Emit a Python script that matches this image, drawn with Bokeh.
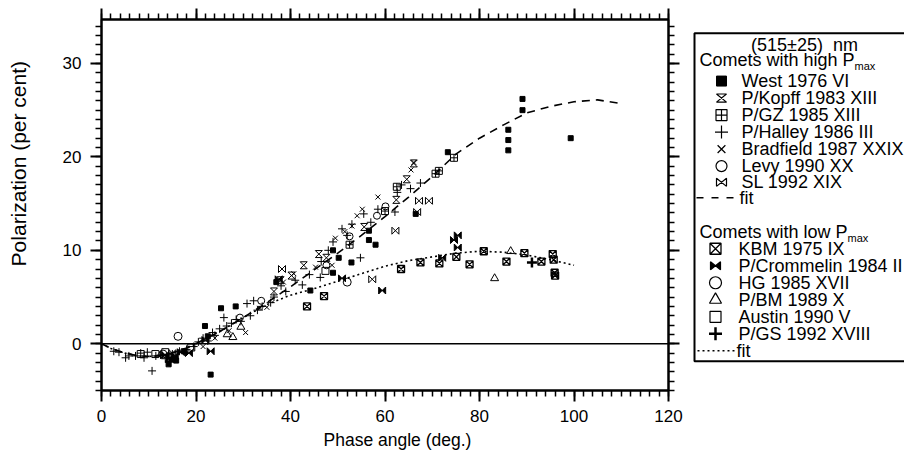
import numpy as np
from bokeh.plotting import figure
from bokeh.models import Range1d, LinearAxis, Span, FixedTicker, CustomJSTickFormatter, Title
from bokeh.layouts import row
from bokeh.embed import file_html
from bokeh.resources import INLINE
from bokeh.core.properties import value

# ---------------- data ----------------
west_x = [14.2, 15.3, 15.8, 17.4, 21.9, 22.5, 23.1, 25.3, 28.4, 37.0, 44.2, 49.0, 49.0, 50.2, 52.9, 56.6, 56.6, 58.0, 66.5, 73.3, 86.1, 86.1, 86.1, 89.1, 89.1, 99.3]
west_y = [-2.2, -1.6, -1.8, -0.8, 1.9, 0.8, -3.3, 3.8, 4.0, 6.6, 5.7, 10.0, 7.6, 9.2, 8.7, 11.1, 12.1, 10.6, 13.9, 20.5, 20.7, 21.8, 22.9, 25.0, 26.2, 22.0]

kopff_x = [36.5, 37.9, 40.2, 42.8, 46.0, 47.6, 55.6, 62.4, 64.6, 66.1]
kopff_y = [5.6, 6.8, 7.3, 8.4, 9.6, 9.2, 12.5, 15.4, 17.6, 19.3]

gz_x = [52.5, 60.0, 62.5, 70.7, 71.4, 74.6]
gz_y = [10.6, 14.2, 16.8, 18.2, 18.5, 19.9]

halley_x = [2.6, 3.7, 5.1, 5.8, 7.2, 8.3, 9.0, 9.7, 10.7, 11.5, 12.5, 13.5, 15.0, 16.5, 18.0,
            19.5, 20.5, 21.5, 22.5, 23.5, 24.0, 25.0, 25.9, 26.5, 27.5, 28.5, 29.5, 30.8, 31.5, 32.2,
            33.0, 34.0, 35.8, 36.5, 38.0, 39.0, 41.0, 42.5, 44.0, 46.3, 46.5, 48.0, 49.0, 50.9, 52.0,
            53.0, 54.8, 55.5, 57.0, 58.5, 62.1, 62.6, 63.5, 65.4, 67.5]
halley_y = [-0.8, -0.9, -1.5, -1.3, -1.3, -1.0, -1.5, -0.9, -2.9, -1.3, -1.2, -1.6, -1.1, -0.8, -0.6,
            -0.3, 0.2, 0.6, 0.3, 1.2, 0.9, 1.6, 2.8, 1.9, 2.2, 2.6, 2.4, 4.3, 3.0, 4.6,
            3.6, 4.0, 4.4, 5.0, 6.2, 5.6, 6.8, 6.3, 7.4, 7.1, 8.8, 10.0, 10.9, 12.3, 11.6,
            12.8, 9.2, 13.9, 13.0, 14.4, 14.1, 16.2, 17.0, 16.6, 17.2]

bradfield_x = [21.5, 24.0, 27.0, 30.5, 33.5, 35.0, 38.5, 40.7, 45.3, 48.8, 49.5, 51.5, 53.0, 54.1, 55.2, 58.5, 65.5, 66.1]
bradfield_y = [-0.3, 0.6, 1.4, 1.2, 3.8, 3.9, 6.6, 7.5, 8.2, 8.4, 11.3, 12.0, 12.6, 13.7, 14.4, 15.7, 18.6, 19.4]

levy_x = [29.3, 33.8, 47.6, 52.5, 58.3, 60.1]
levy_y = [2.8, 4.6, 8.4, 11.5, 13.7, 14.7]

sl_x = [15.0, 38.2, 57.3, 62.2, 66.8, 67.2, 69.3]
sl_y = [-1.0, 8.0, 6.9, 12.1, 14.1, 15.3, 15.3]

kbm_x = [43.5, 47.1, 63.4, 67.5, 71.5, 75.1, 77.9, 80.9, 85.7, 89.5, 93.1, 95.5, 95.7, 95.9, 96.0]
kbm_y = [4.0, 5.1, 8.0, 8.7, 8.6, 9.3, 8.5, 9.9, 8.8, 9.7, 8.8, 9.6, 9.0, 7.6, 7.3]

crommelin_x = [13.5, 14.5, 15.5, 16.8, 18.5, 22.0, 23.1, 37.5, 50.9, 59.4, 72.1, 74.6, 75.4, 75.4]
crommelin_y = [-1.2, -1.5, -1.3, -0.9, -1.0, 0.4, -0.8, 6.9, 7.0, 5.7, 9.2, 11.1, 11.6, 10.3]

hg_x = [13.0, 16.2, 52.0]
hg_y = [-1.1, 0.8, 6.6]

bm_x = [26.6, 27.8, 29.5, 83.2, 86.6]
bm_y = [1.0, 0.7, 1.8, 7.0, 9.9]

austin_x = [8.3, 11.4, 13.5, 19.0, 47.4]
austin_y = [-1.1, -1.1, -0.9, -0.4, 7.8]

gs_x = [14.5, 91.1]
gs_y = [-1.9, 8.7]

fit_x = [0, 2, 5, 8, 10, 12, 15, 18, 20, 22, 25, 30, 35, 40, 45, 50, 55, 60, 65, 70, 75, 80, 85, 90, 95, 100, 105, 110]
high_fit_y = [0, -0.5, -1.0, -1.3, -1.35, -1.3, -1.0, -0.45, 0.0, 0.55, 1.3, 2.8, 4.4, 6.1, 7.9,
              9.7, 11.6, 13.6, 15.7, 17.9, 20.3, 22.0, 23.4, 24.7, 25.4, 25.9, 26.1, 25.7]
low_fit_x = fit_x[:26]
low_fit_y = [0, -0.5, -1.0, -1.3, -1.35, -1.3, -1.0, -0.45, 0.0, 0.55, 1.3, 2.8, 4.2, 5.2, 5.9,
             6.7, 7.5, 8.3, 8.9, 9.3, 9.7, 9.9, 9.8, 9.5, 9.0, 8.4]

x_ticks = [0, 20, 40, 60, 80, 100, 120]
y_ticks = [0, 10, 20, 30]

# ---------------- styling constants ----------------
FONT = "Liberation Sans"
X0, X1 = 0, 120
Y0, Y1 = -5, 34.7
FW, FH = 567, 371
YLW = 40                      # strip that carries the y-axis title
ML, MR, MT, MB = 61, 18, 19, 68
TOTAL_H = MT + FH + MB

# ---- strip with the y-axis title (placed as in the original, not centred) ----
Y = figure(width=YLW, height=TOTAL_H, x_range=Range1d(0, YLW), y_range=Range1d(0, TOTAL_H),
           output_backend="svg", toolbar_location=None, min_border=0,
           x_axis_location=None, y_axis_location=None)
Y.grid.visible = False
Y.outline_line_color = None
Y.text(x=[17.5], y=[TOTAL_H - 178], text=["Polarization (per cent)"], angle=np.pi / 2,
       text_font=value(FONT), text_font_size="21px", text_align="center",
       text_baseline="middle", text_color="black")

# ---- main plot ----
p = figure(width=ML + FW + MR, height=TOTAL_H,
           x_range=Range1d(X0, X1), y_range=Range1d(Y0, Y1),
           output_backend="svg", toolbar_location=None,
           min_border_left=ML, min_border_right=MR, min_border_top=MT, min_border_bottom=MB)
p.grid.visible = False
p.outline_line_color = "black"
p.outline_line_width = 2
p.background_fill_color = "white"
p.border_fill_color = "white"

xt = FixedTicker(ticks=x_ticks, minor_ticks=list(range(0, 121, 2)))
yt = FixedTicker(ticks=y_ticks, minor_ticks=list(range(-5, 35)))


def style_axis(ax, ticker, labels=True):
    ax.ticker = ticker
    ax.axis_line_width = 2
    ax.axis_line_color = "black"
    ax.major_tick_out = 11
    ax.major_tick_in = 0
    ax.minor_tick_out = 6
    ax.minor_tick_in = 0
    ax.major_tick_line_width = 2
    ax.minor_tick_line_width = 1.5
    ax.major_tick_line_color = "black"
    ax.minor_tick_line_color = "black"
    if labels:
        ax.major_label_text_font = FONT
        ax.major_label_text_font_size = "17px"
        ax.major_label_text_color = "black"
        ax.major_label_standoff = 8
    else:
        ax.formatter = CustomJSTickFormatter(code="return ''")
        ax.major_label_text_font_size = "1px"
        ax.major_label_standoff = 0


style_axis(p.xaxis[0], xt)
style_axis(p.yaxis[0], yt)
p.yaxis[0].major_label_standoff = 9

top = LinearAxis()
right = LinearAxis()
style_axis(top, FixedTicker(ticks=x_ticks, minor_ticks=list(range(0, 121, 2))), labels=False)
style_axis(right, FixedTicker(ticks=y_ticks, minor_ticks=list(range(-5, 35))), labels=False)
p.add_layout(top, "above")
p.add_layout(right, "right")

p.add_layout(Span(location=0, dimension="width", line_color="black", line_width=1.5))

p.add_layout(Title(text="Phase angle (deg.)", text_font=FONT, text_font_size="17.5px",
                   text_font_style="normal", text_color="black", align="left",
                   offset=222, standoff=7), "below")

# marker half sizes in data units
hx = 3.5 * (X1 - X0) / FW
hy = 3.5 * (Y1 - Y0) / FH


def hourglass(xs, ys, ax, ay):
    return ([[x - ax, x + ax, x - ax, x + ax] for x in xs],
            [[y + ay, y + ay, y - ay, y - ay] for y in ys])


def bowtie(xs, ys, ax, ay):
    return ([[x - ax, x - ax, x + ax, x + ax] for x in xs],
            [[y + ay, y - ay, y + ay, y - ay] for y in ys])


# fits
p.line(fit_x, high_fit_y, line_color="black", line_width=1.6, line_dash="8 6")
p.line(low_fit_x, low_fit_y, line_color="black", line_width=1.6, line_dash="2 3")

# high Pmax comets
p.scatter(west_x, west_y, marker="square", size=5, fill_color="black", line_color="black")
kx, ky = hourglass(kopff_x, kopff_y, hx, hy)
p.patches(kx, ky, fill_color=None, line_color="black", line_width=1)
p.scatter(gz_x, gz_y, marker="square_cross", size=7, fill_color=None, line_color="black", line_width=1)
p.scatter(halley_x, halley_y, marker="cross", size=8, line_color="black", line_width=1)
p.scatter(bradfield_x, bradfield_y, marker="x", size=7, line_color="black", line_width=1)
p.scatter(levy_x, levy_y, marker="circle", size=7, fill_color=None, line_color="black", line_width=1)
sx, sy = bowtie(sl_x, sl_y, hx, hy)
p.patches(sx, sy, fill_color=None, line_color="black", line_width=1)

# low Pmax comets
p.scatter(kbm_x, kbm_y, marker="square_x", size=7, fill_color=None, line_color="black", line_width=1.3)
cx, cy = bowtie(crommelin_x, crommelin_y, hx, hy)
p.patches(cx, cy, fill_color="black", line_color="black", line_width=1)
p.scatter(hg_x, hg_y, marker="circle", size=8, fill_color=None, line_color="black", line_width=1)
p.scatter(bm_x, bm_y, marker="triangle", size=8, fill_color=None, line_color="black", line_width=1)
p.scatter(austin_x, austin_y, marker="square", size=7, fill_color=None, line_color="black", line_width=1)
p.scatter(gs_x, gs_y, marker="cross", size=10, line_color="black", line_width=2.5)

# ---------------- legend panel ----------------
LW, LH = 904 - (YLW + ML + FW + MR), TOTAL_H
L = figure(width=LW, height=LH, x_range=Range1d(0, LW), y_range=Range1d(LH, 0),
           output_backend="svg", toolbar_location=None, min_border=0,
           x_axis_location=None, y_axis_location=None)
L.grid.visible = False
L.outline_line_color = None
L.background_fill_color = "white"
L.border_fill_color = "white"

L.quad(left=8, right=LW + 20, top=17, bottom=422, fill_color=None, line_color="black", line_width=2)

TS = "18px"
def txt(x, y, s, size=TS, align="left"):
    L.text(x=[x], y=[y], text=[s], text_font=value(FONT), text_font_size=size,
           text_baseline="middle", text_align=align, text_color="black")

txt(118, 32, "(515±25)\u00a0\u00a0nm", align="center")
txt(13, 50, "Comets with high P")
txt(168, 58, "max", size="11px")

hi_rows = [76, 97, 118, 139, 160, 181, 201]
hi_names = ["West 1976 VI", "P/Kopff 1983 XIII", "P/GZ 1985 XIII", "P/Halley 1986 III",
            "Bradfield 1987 XXIX", "Levy 1990 XX", "SL 1992 XIX"]
for yy, nm in zip(hi_rows, hi_names):
    txt(55, yy, nm)
mx = 35
L.scatter([mx], [hi_rows[0]], marker="square", size=10, fill_color="black", line_color="black")
a, b = hourglass([mx], [hi_rows[1]], 5, 5)
L.patches(a, b, fill_color=None, line_color="black", line_width=1.2)
L.scatter([mx], [hi_rows[2]], marker="square_cross", size=11, fill_color=None, line_color="black", line_width=1.2)
L.scatter([mx], [hi_rows[3]], marker="cross", size=13, line_color="black", line_width=1.2)
L.scatter([mx], [hi_rows[4]], marker="x", size=11, line_color="black", line_width=1.2)
L.scatter([mx], [hi_rows[5]], marker="circle", size=11, fill_color=None, line_color="black", line_width=1.2)
a, b = bowtie([mx], [hi_rows[6]], 5, 5)
L.patches(a, b, fill_color=None, line_color="black", line_width=1.2)
L.line([10, 49], [220, 220], line_color="black", line_width=1.5, line_dash="7 8")
txt(53, 220, "fit")

txt(13, 262, "Comets with low P")
txt(161, 270, "max", size="11px")
lo_rows = [283, 304, 325, 346, 367, 388]
lo_names = ["KBM 1975 IX", "P/Crommelin 1984 II", "HG 1985 XVII", "P/BM 1989 X",
            "Austin 1990 V", "P/GS 1992 XVIII"]
for yy, nm in zip(lo_rows, lo_names):
    txt(52, yy, nm)
mx = 29
L.scatter([mx], [lo_rows[0]], marker="square_x", size=11, fill_color=None, line_color="black", line_width=1.3)
a, b = bowtie([mx], [lo_rows[1]], 5, 5)
L.patches(a, b, fill_color="black", line_color="black", line_width=1.2)
L.scatter([mx], [lo_rows[2]], marker="circle", size=12, fill_color=None, line_color="black", line_width=1.2)
L.scatter([mx], [lo_rows[3]], marker="triangle", size=12, fill_color=None, line_color="black", line_width=1.2)
L.scatter([mx], [lo_rows[4]], marker="square", size=11, fill_color=None, line_color="black", line_width=1.2)
L.scatter([mx], [lo_rows[5]], marker="cross", size=13, line_color="black", line_width=2.5)
L.line([11, 48], [409, 409], line_color="black", line_width=1.5, line_dash="2 3")
txt(50, 409, "fit")

layout = row(Y, p, L)
open("out.html", "w").write(file_html(layout, INLINE))
